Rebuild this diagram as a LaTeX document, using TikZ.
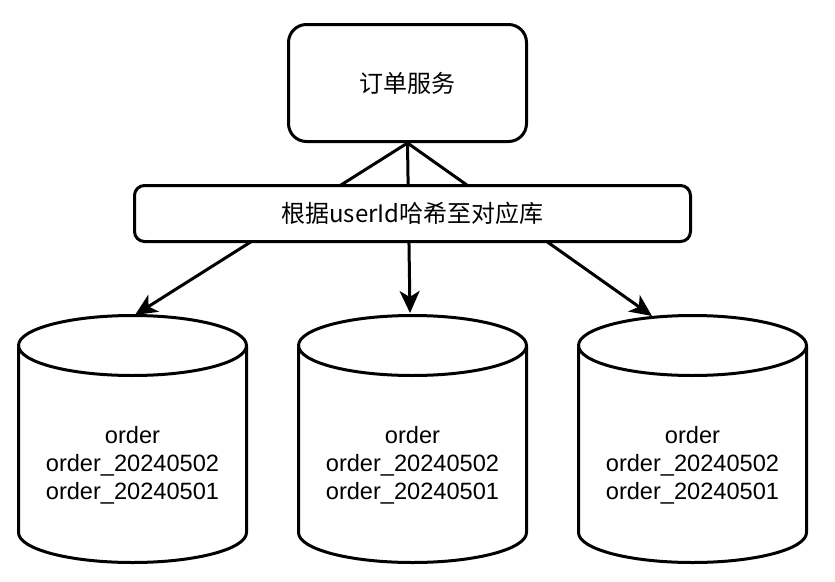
\documentclass[tikz,border=0pt]{standalone}
\usepackage{fontspec}
\setmainfont{Liberation Sans}
\newfontfamily\cjkfont{Noto Sans CJK SC}
\usetikzlibrary{arrows.meta,positioning}
\tikzset{
  svcBox/.style={draw, line width=3pt, fill=white, rounded corners=18pt, minimum width=238pt, minimum height=117pt, font=\cjkfont\fontsize{24}{28}\selectfont},
  ruleBox/.style={draw, line width=3pt, fill=white, rounded corners=10pt, minimum width=556pt, minimum height=56pt, font=\cjkfont\fontsize{24}{28}\selectfont},
  dbLine/.style={draw, line width=3pt, fill=white, line join=round},
  dbText/.style={align=center, font=\fontsize{23.6}{28}\selectfont},
  hashArrow/.style={-{Stealth[length=22pt, width=20pt, inset=6pt]}, line width=3pt}
}
\begin{document}
\begin{tikzpicture}[x=1pt, y=-1pt]
  \useasboundingbox (0,0) rectangle (835,581);
  \node[svcBox] (svc) at (407.5,83) {订单服务};

  % three databases
  \foreach \cx/\id in {132.5/1, 412.5/2, 692.5/3}{
    \path[dbLine] (\cx-114,345.5) -- (\cx-114,532.5)
      arc[start angle=180, end angle=0, x radius=114, y radius=30]
      -- (\cx+114,345.5)
      arc[start angle=0, end angle=-180, x radius=114, y radius=30];
    \draw[line width=3pt] (\cx-114,345.5)
      arc[start angle=180, end angle=0, x radius=114, y radius=30];
  }
  \node[dbText] (tab1) at (132.5,465) {order\\order\_20240502\\order\_20240501};
  \node[dbText] (tab2) at (412.5,465) {order\\order\_20240502\\order\_20240501};
  \node[dbText] (tab3) at (692.5,465) {order\\order\_20240502\\order\_20240501};
  \coordinate (top1) at (135,315);
  \coordinate (top2) at (410,313);
  \coordinate (top3) at (652,316);

  \draw[hashArrow] (svc.south) -- (top1);
  \draw[hashArrow] (svc.south) -- (top2);
  \draw[hashArrow] (svc.south) -- (top3);

  \node[ruleBox, below=41pt of svc, xshift=5pt] (hash) {根据userId哈希至对应库};
\end{tikzpicture}
\end{document}
